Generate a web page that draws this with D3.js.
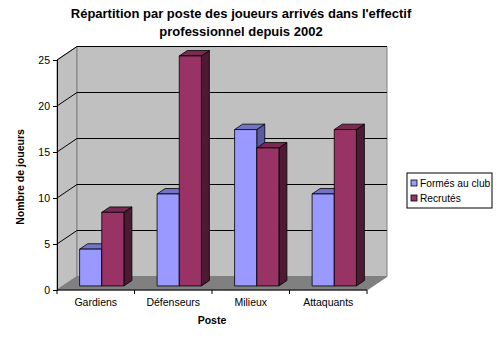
<!DOCTYPE html>
<html>
<head>
<meta charset="utf-8">
<script src="https://cdn.jsdelivr.net/npm/d3@7"></script>
<style>
  body { margin: 0; background: #fff; }
  svg { display: block; font-family: "Liberation Sans", Arial, sans-serif; }
</style>
</head>
<body>
<svg id="chart" width="500" height="343"></svg>
<script>
// Data
const categories = ["Gardiens", "Défenseurs", "Milieux", "Attaquants"];
const seriesNames = ["Formés au club", "Recrutés"];
const formesAuClub = [4, 10, 17, 10];
const recrutes = [8, 25, 15, 17];
const yTicks = [0, 5, 10, 15, 20, 25];
const titleLines = ["Répartition par poste des joueurs arrivés dans l'effectif", "professionnel depuis 2002"];

const seriesValues = [formesAuClub, recrutes];
const faceColors = [
  { front: "#9999ff", top: "#7373c8", side: "#5a5aa0" },
  { front: "#993366", top: "#7a2952", side: "#4c1a33" }
];
const labelSize = 10.5;

const svg = d3.select("#chart");

// Plot frame (front plane) and depth offset of the 3D box
const plotLeft = 57, plotRight = 367, plotBottom = 290, plotTop = 60;
const DX = 20, DY = 13.5;
const proj = (x, y, z) => [x + z * DX, y - z * DY];

const x0 = d3.scaleBand().domain(categories).range([plotLeft, plotRight]);
const x1 = d3.scaleBand().domain(seriesNames).range([0, x0.bandwidth()]).paddingOuter(0.75);
const y = d3.scaleLinear().domain([0, 25]).range([plotBottom, plotTop]);

const poly = pts => pts.map(p => p.join(",")).join(" ");

// Walls
const g = svg.append("g");
// side wall
g.append("polygon")
  .attr("points", poly([proj(plotLeft, y(0), 0), proj(plotLeft, y(25), 0), proj(plotLeft, y(25), 1), proj(plotLeft, y(0), 1)]))
  .attr("fill", "#c0c0c0").attr("stroke", "#808080").attr("stroke-width", 1);
// back wall
g.append("polygon")
  .attr("points", poly([proj(plotLeft, y(0), 1), proj(plotLeft, y(25), 1), proj(plotRight, y(25), 1), proj(plotRight, y(0), 1)]))
  .attr("fill", "#c0c0c0").attr("stroke", "#808080").attr("stroke-width", 1);
// floor
g.append("polygon")
  .attr("points", poly([proj(plotLeft, y(0), 0), proj(plotRight, y(0), 0), proj(plotRight, y(0), 1), proj(plotLeft, y(0), 1)]))
  .attr("fill", "#808080").attr("stroke", "#808080").attr("stroke-width", 1);

// Gridlines on side and back walls
yTicks.filter(t => t > 0).forEach(t => {
  const a = proj(plotLeft, y(t), 0), b = proj(plotLeft, y(t), 1), c = proj(plotRight, y(t), 1);
  g.append("polyline")
    .attr("points", poly([a, b, c]))
    .attr("fill", "none").attr("stroke", "#000").attr("stroke-width", 1);
});

// Bars: front, top and right side faces
const z0 = 0.3, z1 = 0.7;
categories.forEach((cat, i) => {
  seriesNames.forEach((s, j) => {
    const v = seriesValues[j][i];
    const xa = x0(cat) + x1(s), xb = xa + x1.bandwidth();
    const yv = y(v), y0 = y(0);
    const col = faceColors[j];
    const bg = g.append("g").attr("stroke", "#000").attr("stroke-width", 0.8).attr("stroke-linejoin", "round");
    bg.append("polygon")
      .attr("points", poly([proj(xb, y0, z0), proj(xb, yv, z0), proj(xb, yv, z1), proj(xb, y0, z1)]))
      .attr("fill", col.side);
    bg.append("polygon")
      .attr("points", poly([proj(xa, yv, z0), proj(xb, yv, z0), proj(xb, yv, z1), proj(xa, yv, z1)]))
      .attr("fill", col.top);
    bg.append("polygon")
      .attr("points", poly([proj(xa, y0, z0), proj(xa, yv, z0), proj(xb, yv, z0), proj(xb, y0, z0)]))
      .attr("fill", col.front);
  });
});

// Axes
const yAxis = d3.axisLeft(y).tickValues(yTicks).tickSize(4).tickPadding(3);
svg.append("g").attr("transform", `translate(${plotLeft},0)`).call(yAxis)
  .call(a => a.select(".domain").attr("stroke", "#000"))
  .call(a => a.selectAll("text").attr("font-size", labelSize).attr("font-family", "Liberation Sans, Arial, sans-serif").attr("fill", "#000"));

const xAxis = d3.axisBottom(x0).tickSize(0).tickPadding(9);
const xg = svg.append("g").attr("transform", `translate(0,${plotBottom})`).call(xAxis);
xg.select(".domain").attr("d", `M${plotLeft},0H${plotRight}`).attr("stroke", "#000");
xg.selectAll("text").attr("font-size", labelSize).attr("font-family", "Liberation Sans, Arial, sans-serif").attr("fill", "#000");
// category separator ticks
const boundaries = categories.map(c => x0(c)).concat([plotRight]);
xg.selectAll("line.sep").data(boundaries).join("line").attr("class", "sep")
  .attr("x1", d => d).attr("x2", d => d).attr("y1", 0).attr("y2", 4).attr("stroke", "#000");

// Titles
svg.append("text").attr("text-anchor", "middle").attr("font-weight", "bold").attr("font-size", 13)
  .selectAll("tspan").data(titleLines).join("tspan")
  .attr("x", 241).attr("y", (d, i) => 18 + i * 18).text(d => d);

svg.append("text").attr("x", 212).attr("y", 324).attr("text-anchor", "middle")
  .attr("font-weight", "bold").attr("font-size", labelSize).text("Poste");

svg.append("text").attr("transform", "translate(24,177) rotate(-90)").attr("text-anchor", "middle")
  .attr("font-weight", "bold").attr("font-size", labelSize).text("Nombre de joueurs");

// Legend
const lg = svg.append("g").attr("transform", "translate(407,173)");
lg.append("rect").attr("width", 85).attr("height", 35).attr("fill", "#fff").attr("stroke", "#000").attr("stroke-width", 1);
seriesNames.forEach((s, j) => {
  lg.append("rect").attr("x", 4).attr("y", 7 + j * 15).attr("width", 6).attr("height", 6)
    .attr("fill", faceColors[j].front).attr("stroke", "#000").attr("stroke-width", 0.8);
  lg.append("text").attr("x", 13).attr("y", 14 + j * 15).attr("font-size", 10.2).text(s);
});
</script>
</body>
</html>
